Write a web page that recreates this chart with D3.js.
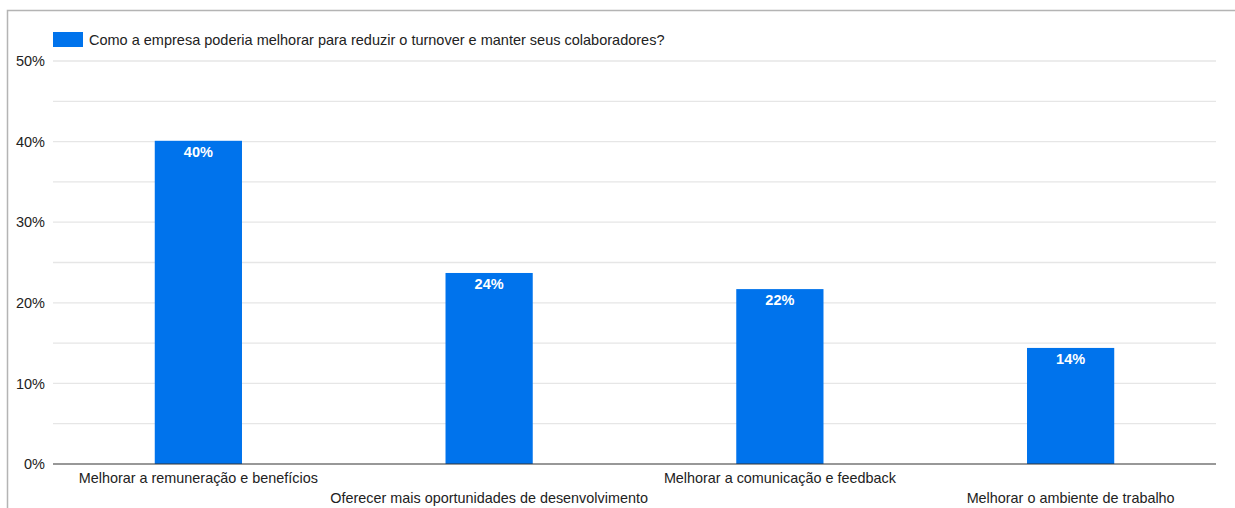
<!DOCTYPE html>
<html>
<head>
<meta charset="utf-8">
<script src="https://cdn.jsdelivr.net/npm/d3@7"></script>
<style>
  html, body { margin: 0; padding: 0; background: #fff; }
  svg { display: block; font-family: "Liberation Sans", Arial, sans-serif; }
</style>
</head>
<body>
<svg id="chart" width="1235" height="508"></svg>
<script>
// Survey answers and their share of responses (percent)
const categories = [
  "Melhorar a remuneração e benefícios",
  "Oferecer mais oportunidades de desenvolvimento",
  "Melhorar a comunicação e feedback",
  "Melhorar o ambiente de trabalho"
];
const values = [40.1, 23.7, 21.7, 14.4];
const seriesName = "Como a empresa poderia melhorar para reduzir o turnover e manter seus colaboradores?";
const yTicks = [0, 10, 20, 30, 40, 50];
const yGrid = [5, 15, 25, 35, 45];

const svg = d3.select("#chart");
const W = 1235, H = 508;
const plot = { left: 53, right: 1216, top: 61, bottom: 464 };
const barColor = "#0073ec";
const textColor = "#222";

// Outer frame
svg.append("rect")
  .attr("x", 7.5).attr("y", 10.5)
  .attr("width", W + 10).attr("height", H + 10)
  .attr("fill", "none").attr("stroke", "#b4b4b4").attr("stroke-width", 1.5);

const x = d3.scaleBand().domain(categories).range([plot.left, plot.right]).padding(0);
const y = d3.scaleLinear().domain([0, 50]).range([plot.bottom, plot.top]);
const barW = x.bandwidth() * 0.3;

// Gridlines (major and minor)
svg.append("g").selectAll("line")
  .data(yGrid.concat(yTicks.filter(d => d > 0)))
  .join("line")
  .attr("x1", plot.left).attr("x2", plot.right)
  .attr("y1", d => y(d)).attr("y2", d => y(d))
  .attr("stroke", "#e6e6e6").attr("stroke-width", 1.3);

// Y axis labels
const yAxis = d3.axisLeft(y).tickValues(yTicks).tickFormat(d => d + "%").tickSize(0).tickPadding(8);
const yg = svg.append("g").attr("transform", `translate(${plot.left},0)`).call(yAxis);
yg.select(".domain").remove();
yg.selectAll("text")
  .attr("font-family", "Liberation Sans, Arial, sans-serif")
  .attr("font-size", 14.5).attr("fill", textColor);

// Bars
svg.append("g").selectAll("rect")
  .data(values)
  .join("rect")
  .attr("x", (d, i) => x(categories[i]) + (x.bandwidth() - barW) / 2)
  .attr("width", barW)
  .attr("y", d => y(d))
  .attr("height", d => y(0) - y(d))
  .attr("fill", barColor);

// Value labels inside bars
svg.append("g").selectAll("text")
  .data(values)
  .join("text")
  .attr("x", (d, i) => x(categories[i]) + x.bandwidth() / 2)
  .attr("y", d => y(d) + 16)
  .attr("text-anchor", "middle")
  .attr("font-size", 14.5).attr("font-weight", "bold")
  .attr("fill", "#fff")
  .text(d => Math.round(d) + "%");

// Baseline
svg.append("line")
  .attr("x1", plot.left).attr("x2", plot.right)
  .attr("y1", y(0)).attr("y2", y(0))
  .attr("stroke", "#333").attr("stroke-width", 1.2);

// Category labels, staggered on two rows
svg.append("g").selectAll("text")
  .data(categories)
  .join("text")
  .attr("x", d => x(d) + x.bandwidth() / 2)
  .attr("y", (d, i) => i % 2 === 0 ? 483 : 503)
  .attr("text-anchor", "middle")
  .attr("font-size", 14.4).attr("fill", textColor)
  .text(d => d);

// Legend
const lg = svg.append("g");
lg.append("rect")
  .attr("x", 53).attr("y", 32).attr("width", 30).attr("height", 15)
  .attr("fill", barColor);
lg.append("text")
  .attr("x", 89).attr("y", 45)
  .attr("font-size", 14.5).attr("fill", textColor)
  .text(seriesName);
</script>
</body>
</html>
